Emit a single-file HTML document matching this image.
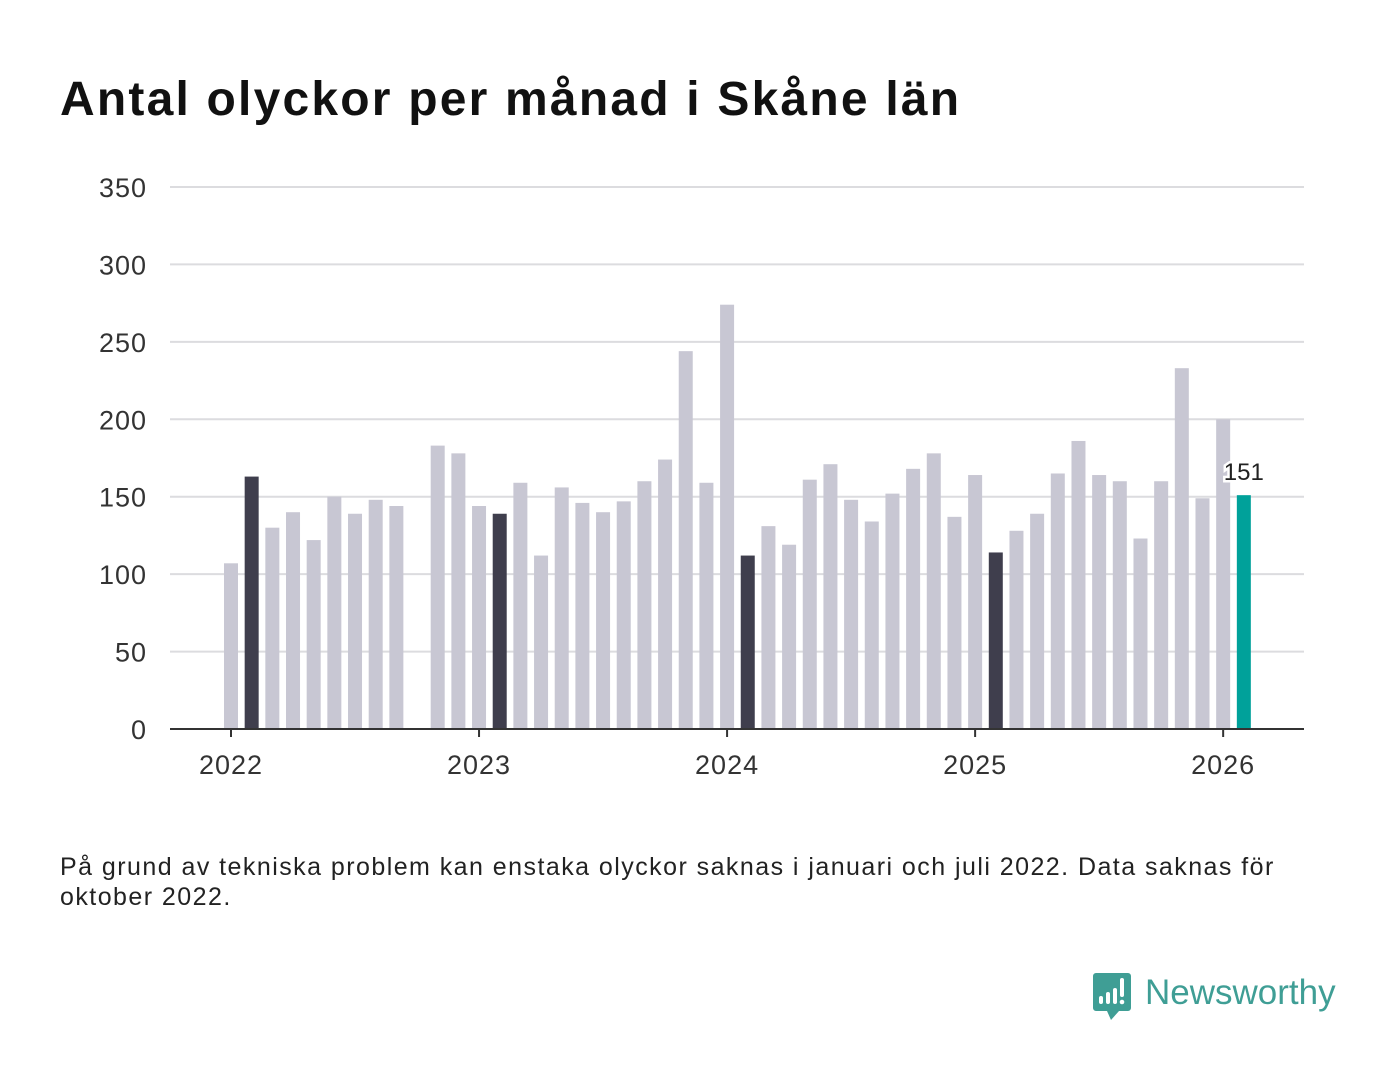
<!DOCTYPE html>
<html><head><meta charset="utf-8"><style>
body{margin:0;background:#fff;font-family:"Liberation Sans",sans-serif;}
#wrap{position:relative;width:1400px;height:1080px;overflow:hidden;}
h1{position:absolute;left:60px;top:72px;margin:0;font-size:48px;font-weight:bold;color:#111;letter-spacing:2.2px;}
#note{position:absolute;left:60px;top:852px;width:1215px;font-size:25px;line-height:30px;color:#222;letter-spacing:1.45px;}
#logo{position:absolute;left:1090px;top:970px;}
</style></head><body>
<div id="wrap">
<h1>Antal olyckor per månad i Skåne län</h1>
<svg id="chart" width="1400" height="1080" style="position:absolute;left:0;top:0"></svg>
<div id="note">På grund av tekniska problem kan enstaka olyckor saknas i januari och juli 2022. Data saknas för oktober 2022.</div>
<svg id="logo" width="260" height="55">
<path d="M3 3h35a3 3 0 0 1 3 3v32a3 3 0 0 1-3 3H29l-8 9-4-9H6a3 3 0 0 1-3-3V6a3 3 0 0 1 3-3z" fill="#3f9e95"/>
<rect x="9" y="26" width="4" height="8" rx="2" fill="#fff"/><rect x="16" y="22" width="4" height="12" rx="2" fill="#fff"/><rect x="23" y="18" width="4" height="16" rx="2" fill="#fff"/><rect x="30" y="8" width="4" height="19" rx="2" fill="#fff"/><circle cx="32" cy="32" r="2.3" fill="#fff"/>
<text x="55" y="34" font-family="Liberation Sans" font-size="35" font-weight="500" fill="#3f9e95">Newsworthy</text>
</svg>
</div>
<script>
const months=["2022-01","2022-02","2022-03","2022-04","2022-05","2022-06","2022-07","2022-08","2022-09","2022-10","2022-11","2022-12",
"2023-01","2023-02","2023-03","2023-04","2023-05","2023-06","2023-07","2023-08","2023-09","2023-10","2023-11","2023-12",
"2024-01","2024-02","2024-03","2024-04","2024-05","2024-06","2024-07","2024-08","2024-09","2024-10","2024-11","2024-12",
"2025-01","2025-02","2025-03","2025-04","2025-05","2025-06","2025-07","2025-08","2025-09","2025-10","2025-11","2025-12",
"2026-01","2026-02"];
const values=[107,163,130,140,122,150,139,148,144,null,183,178,
144,139,159,112,156,146,140,147,160,174,244,159,
274,112,131,119,161,171,148,134,152,168,178,137,
164,114,128,139,165,186,164,160,123,160,233,149,
200,151];
const yTicks=[0,50,100,150,200,250,300,350];
const xTickLabels=["2022","2023","2024","2025","2026"];
const NS="http://www.w3.org/2000/svg",svg=document.getElementById('chart');
const y=v=>729-v*(542/350);
const x=i=>231+i*20.67;
function mk(t,a){const e=document.createElementNS(NS,t);for(const k in a)e.setAttribute(k,a[k]);svg.appendChild(e);return e;}
yTicks.forEach(t=>{
 if(t>0){const g=mk('line',{x1:170,x2:1304,y1:y(t),y2:y(t),stroke:'#dcdcdf','stroke-width':2});
 
 }
 const l=mk('text',{x:147,y:y(t)+10,'text-anchor':'end','font-size':27,fill:'#333','font-family':'Liberation Sans','letter-spacing':1});l.textContent=t;
 
 
});
const last=values.length-1;
values.forEach((v,i)=>{
 if(v==null)return;
 const m=months[i].slice(5);
 const col=i===last?'#00a19a':(m==="02"?'#3f3e4d':'#c8c7d3');
 const b=mk('rect',{x:x(i)-7,y:y(v),width:14,height:y(0)-y(v),fill:col});
 
 
});
const ax=mk('line',{x1:170,x2:1304,y1:729,y2:729,stroke:'#333','stroke-width':2});


xTickLabels.forEach((lab,k)=>{
 const i=k*12;
 const tk=mk('line',{x1:x(i),x2:x(i),y1:729,y2:737,stroke:'#333','stroke-width':2});
 
 
 const t=mk('text',{x:x(i),y:774,'text-anchor':'middle','font-size':27,fill:'#333','font-family':'Liberation Sans','letter-spacing':1});t.textContent=lab;
 
 
});
const vl=mk('text',{x:x(last),y:y(values[last])-15,'text-anchor':'middle','font-size':24,fill:'#222',stroke:'#fff','stroke-width':5,'paint-order':'stroke','font-family':'Liberation Sans'});
vl.textContent=values[last];


</script>
</body></html>
